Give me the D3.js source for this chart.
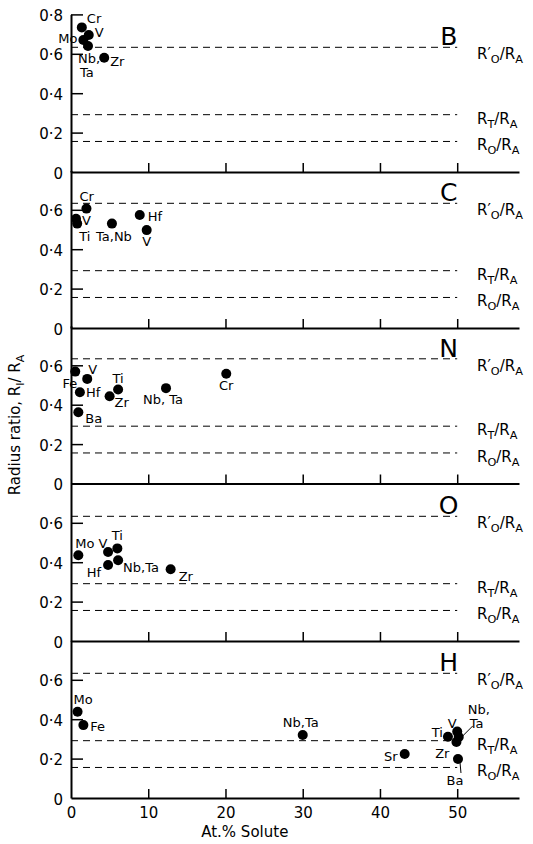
<!DOCTYPE html>
<html>
<head>
<meta charset="utf-8">
<title>Radius ratio</title>
<script src="https://cdn.jsdelivr.net/npm/d3@7"></script>
<style>
  body { margin: 0; background: #fff; }
  text { font-family: "DejaVu Sans", sans-serif; fill: #000; }
</style>
</head>
<body>
<script>
// panels, top to bottom
var panelNames = ["B", "C", "N", "O", "H"];

// solute element, at.% solute, radius ratio
var bNames = ["Cr", "V", "Mo", "Nb,\nTa", "Zr"];
var bX = [1.4, 2.3, 1.6, 2.2, 4.3];
var bY = [0.734, 0.695, 0.67, 0.64, 0.58];

var cNames = ["Cr", "V", "Ti", "Ta,Nb", "Hf", "V"];
var cX = [2.0, 0.65, 0.8, 5.3, 8.9, 9.8];
var cY = [0.606, 0.555, 0.53, 0.53, 0.574, 0.497];

var nNames = ["Fe", "V", "Hf", "Ba", "Zr", "Ti", "Nb, Ta", "Cr"];
var nX = [0.55, 2.1, 1.15, 0.95, 5.0, 6.1, 12.3, 20.1];
var nY = [0.568, 0.531, 0.463, 0.362, 0.443, 0.477, 0.484, 0.557];

var oNames = ["Mo", "V", "Ti", "Hf", "Nb,Ta", "Zr"];
var oX = [0.95, 4.8, 6.0, 4.8, 6.1, 12.9];
var oY = [0.435, 0.452, 0.47, 0.386, 0.41, 0.364];

var hNames = ["Mo", "Fe", "Nb,Ta", "Sr", "Ti", "V", "Nb,\nTa", "Zr", "Ba"];
var hX = [0.85, 1.6, 30.0, 43.2, 48.8, 50.0, 50.2, 49.9, 50.1];
var hY = [0.438, 0.37, 0.32, 0.223, 0.311, 0.337, 0.31, 0.284, 0.198];

// limiting ratios (dashed lines)
var limitValues = [0.633, 0.291, 0.155];
var limitKeys = ["R\u2032O", "RT", "RO"];

var xTicks = [0, 10, 20, 30, 40, 50];
var yTicks = [0, 0.2, 0.4, 0.6];
var yTicksTop = [0, 0.2, 0.4, 0.6, 0.8];

// label placement: [dx, dy, anchor, leader line]
var labelPos = [
  [[5, -4, "start"], [6, 2, "start"], [-6, 3, "end"], [-10, 17, "start"], [6, 8, "start"]],
  [[-7, -8, "start"], [6, 6, "start"], [2, 17, "start"], [2, 17, "middle"], [8, 6, "start"], [0, 16, "middle"]],
  [[2, 16, "end"], [1, -5, "start"], [6, 5, "start"], [7, 11, "start"], [5, 11, "start"], [0, -7, "middle"], [-3, 16, "middle"], [0, 16, "middle"]],
  [[-3, -7, "start"], [-5, -4, "middle"], [0, -8, "middle"], [-7, 12, "end"], [5, 12, "start"], [8, 12, "start"]],
  [[-4, -8, "start"], [7, 6, "start"], [-2, -8, "middle"], [-7, 7, "end"], [-5, 0, "end"], [-5, -4, "middle"],
   [9, -23, "start", [3, 0, 14, -11]], [-7, 16, "end"], [-3, 26, "middle", [2, 3, 3, 14]]]
];

var panels = [
  {names: bNames, xs: bX, ys: bY},
  {names: cNames, xs: cX, ys: cY},
  {names: nNames, xs: nX, ys: nY},
  {names: oNames, xs: oX, ys: oY},
  {names: hNames, xs: hX, ys: hY}
];

var width = 533, height = 844;
var baselines = [172, 328, 483.5, 641, 798];
var unit = 197;   // px per unit of radius ratio

var svg = d3.select("body").append("svg")
    .attr("width", width)
    .attr("height", height);

var x = d3.scaleLinear().domain([0, 58]).range([71, 519]);

function fmt(d) {
  return d === 0 ? "0" : d3.format(".1f")(d).replace(".", "\u00b7");
}

// "R'O/RA" style label with subscripts
function ratioLabel(g, key, size) {
  var t = g.append("text").attr("font-size", size);
  var head = key.slice(0, key.length - 1);
  t.append("tspan").text(head);
  t.append("tspan").attr("font-size", size * 0.75).attr("dy", 4).text(key.slice(-1));
  t.append("tspan").attr("dy", -4).text("/R");
  t.append("tspan").attr("font-size", size * 0.75).attr("dy", 4).text("A");
  return t;
}

panels.forEach(function(p, i) {
  var base = baselines[i];
  var y = d3.scaleLinear().domain([0, 0.8]).range([base, base - 0.8 * unit]);
  var g = svg.append("g");
  var last = i === panels.length - 1;

  // dashed limiting-ratio lines
  g.selectAll("line.limit")
    .data(limitValues)
    .enter()
    .append("line")
    .attr("x1", x(0)).attr("x2", x(50))
    .attr("y1", function(d) { return y(d); })
    .attr("y2", function(d) { return y(d); })
    .attr("stroke", "#000")
    .attr("stroke-width", 1)
    .attr("stroke-dasharray", "7,5");

  limitValues.forEach(function(v, k) {
    ratioLabel(g, limitKeys[k], 15)
      .attr("x", 477)
      .attr("y", y(v) + (k === 0 ? 12 : 9));
  });

  // panel letter
  g.append("text")
    .attr("x", x(48.9))
    .attr("y", y(0.633) - 2)
    .attr("text-anchor", "middle")
    .attr("font-size", 25)
    .text(panelNames[i]);

  // y axis
  var yAxis = d3.axisLeft(y)
    .tickValues(i === 0 ? yTicksTop : yTicks)
    .tickSize(-12)
    .tickSizeOuter(0)
    .tickPadding(8)
    .tickFormat(fmt);
  var ya = g.append("g")
    .attr("transform", "translate(" + x(0) + ",0)")
    .call(yAxis);
  ya.select(".domain").attr("stroke-width", 2);
  ya.selectAll(".tick line").attr("stroke-width", 1.5);
  ya.selectAll(".tick text")
    .attr("font-size", 15)
    .attr("font-family", "DejaVu Sans, sans-serif")
    .attr("dy", "0.4em");
  ya.selectAll(".tick").filter(function(d) { return d === 0; }).select("line").remove();

  // baseline / x axis
  var xAxis = d3.axisBottom(x)
    .tickValues(last ? xTicks : xTicks.slice(1))
    .tickSize(-9)
    .tickSizeOuter(0)
    .tickPadding(9)
    .tickFormat(last ? d3.format("d") : "");
  var xa = g.append("g")
    .attr("transform", "translate(0," + base + ")")
    .call(xAxis);
  xa.select(".domain").attr("stroke-width", 2);
  xa.selectAll(".tick line").attr("stroke-width", 1.5);
  xa.selectAll(".tick").filter(function(d) { return d === 0; }).select("line").remove();
  xa.selectAll(".tick text")
    .attr("font-size", 15)
    .attr("font-family", "DejaVu Sans, sans-serif");

  // points
  g.selectAll("circle")
    .data(p.names)
    .enter()
    .append("circle")
    .attr("cx", function(d, j) { return x(p.xs[j]); })
    .attr("cy", function(d, j) { return y(p.ys[j]); })
    .attr("r", 5)
    .attr("fill", "#000");

  // point labels
  p.names.forEach(function(name, j) {
    var pos = labelPos[i][j];
    var px = x(p.xs[j]), py = y(p.ys[j]);
    var t = g.append("text")
      .attr("x", px + pos[0])
      .attr("y", py + pos[1])
      .attr("text-anchor", pos[2])
      .attr("font-size", 13);
    name.split("\n").forEach(function(line, k) {
      t.append("tspan")
        .attr("x", px + pos[0] + (k > 0 ? 2 : 0))
        .attr("dy", k > 0 ? 14 : 0)
        .text(line);
    });
    if (pos[3]) {
      g.append("line")
        .attr("x1", px + pos[3][0]).attr("y1", py + pos[3][1])
        .attr("x2", px + pos[3][2]).attr("y2", py + pos[3][3])
        .attr("stroke", "#000")
        .attr("stroke-width", 1);
    }
  });
});

// axis titles
svg.append("text")
  .attr("x", x(22.5))
  .attr("y", 837)
  .attr("text-anchor", "middle")
  .attr("font-size", 15)
  .text("At.% Solute");

var yt = svg.append("text")
  .attr("transform", "translate(20,425) rotate(-90)")
  .attr("text-anchor", "middle")
  .attr("font-size", 15);
yt.append("tspan").text("Radius ratio, R");
yt.append("tspan").attr("font-size", 11).attr("dy", 4).text("I");
yt.append("tspan").attr("dy", -4).text("/ R");
yt.append("tspan").attr("font-size", 11).attr("dy", 4).text("A");
</script>
</body>
</html>
